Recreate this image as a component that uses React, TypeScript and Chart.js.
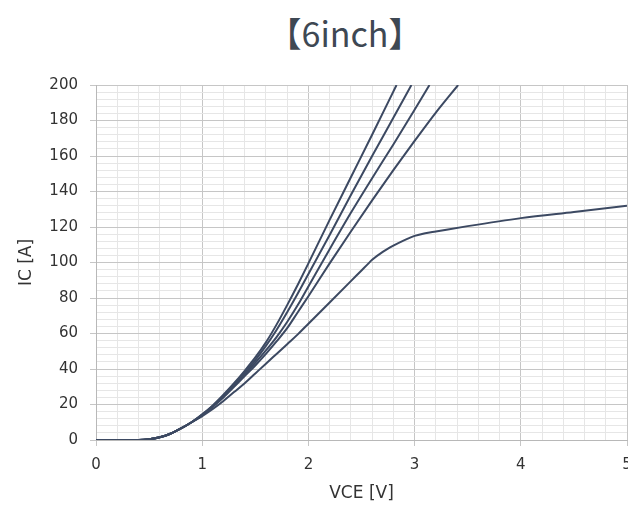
import React, { useEffect, useRef } from "react";
import { Chart, registerables } from "chart.js";

Chart.register(...registerables);

const TITLE = "【6inch】";
const X_TITLE = "VCE [V]";
const Y_TITLE = "IC [A]";

const vA = [0, 0.4, 0.5, 0.6, 0.7, 0.8, 0.9, 1.0, 1.1, 1.2, 1.3, 1.4, 1.5, 1.6, 1.7, 1.8, 1.9, 2.0, 2.2, 2.4, 2.6, 2.83];
const iA = [0, 0, 0.4, 1.5, 3.5, 6.5, 10, 14.5, 19.5, 25.5, 32, 39, 46.5, 55, 65, 76, 87.5, 99.5, 124, 148, 172, 200];

const vB = [0, 0.4, 0.5, 0.6, 0.7, 0.8, 0.9, 1.0, 1.1, 1.2, 1.3, 1.4, 1.5, 1.6, 1.7, 1.8, 1.9, 2.0, 2.2, 2.4, 2.6, 2.8, 2.97];
const iB = [0, 0, 0.4, 1.5, 3.5, 6.5, 10, 14.3, 19.3, 25, 31.5, 38, 45, 53, 62, 72, 82.5, 93.5, 115.5, 138, 160, 181.5, 200];

const vC = [0, 0.4, 0.5, 0.6, 0.7, 0.8, 0.9, 1.0, 1.1, 1.2, 1.3, 1.4, 1.5, 1.6, 1.7, 1.8, 1.9, 2.0, 2.2, 2.4, 2.6, 2.8, 3.0, 3.14];
const iC = [0, 0, 0.4, 1.5, 3.5, 6.5, 10, 14.1, 19, 24.5, 30.5, 37, 43.5, 50.5, 58, 66.5, 76, 86.5, 107.5, 128, 147.5, 166.5, 186, 200];

const vD = [0, 0.4, 0.5, 0.6, 0.7, 0.8, 0.9, 1.0, 1.1, 1.2, 1.3, 1.4, 1.5, 1.6, 1.7, 1.8, 1.9, 2.0, 2.2, 2.4, 2.6, 2.8, 3.0, 3.2, 3.41];
const iD = [0, 0, 0.4, 1.5, 3.5, 6.5, 10, 13.9, 18.8, 24, 30, 36, 42, 48.5, 55.5, 63, 72, 81, 99.5, 117.5, 135, 152, 168.5, 184.5, 200];

const vE = [0, 0.4, 0.5, 0.6, 0.7, 0.8, 0.9, 1.0, 1.1, 1.2, 1.3, 1.4, 1.5, 1.6, 1.7, 1.8, 1.9, 2.0, 2.2, 2.4, 2.5, 2.55, 2.6, 2.7, 2.8, 2.9, 3.0, 3.1, 3.2, 3.5, 4.0, 4.5, 5.0];
const iE = [0, 0, 0.4, 1.5, 3.5, 6.5, 10, 13.5, 17.5, 22, 27, 32, 37.5, 43, 48.5, 54, 59.5, 65.5, 77.5, 89.5, 95.5, 98.5, 101.5, 106, 109.5, 112.5, 115, 116.5, 117.5, 120.5, 125, 128.5, 132];

const SERIES = [
  { v: vA, i: iA },
  { v: vB, i: iB },
  { v: vC, i: iC },
  { v: vD, i: iD },
  { v: vE, i: iE },
];

const LINE_COLOR = "#3c4962";
const MAJOR = "#c6c6c6";
const MINOR = "#e6e6e6";
const TEXT = "#333333";

const isInt = (v: number, step: number) => Math.abs(v / step - Math.round(v / step)) < 1e-6;

export default function App() {
  const ref = useRef<HTMLCanvasElement | null>(null);

  useEffect(() => {
    if (!ref.current) return;
    const chart = new Chart(ref.current, {
      type: "line",
      data: {
        datasets: SERIES.map((s) => ({
          data: s.v.map((x, k) => ({ x, y: s.i[k] })),
          borderColor: LINE_COLOR,
          borderWidth: 2,
          pointRadius: 0,
          fill: false,
          cubicInterpolationMode: "monotone" as const,
        })),
      },
      options: {
        responsive: false,
        animation: false,
        layout: { padding: { left: 0, right: 33, top: 85, bottom: 0 } },
        plugins: { legend: { display: false }, tooltip: { enabled: false }, title: { display: false } },
        scales: {
          x: {
            type: "linear",
            min: 0,
            max: 5,
            afterFit: (scale: any) => {
              scale.height = 68;
            },
            ticks: {
              stepSize: 0.2,
              autoSkip: false,
              maxRotation: 0,
              padding: 10,
              color: TEXT,
              font: { family: "DejaVu Sans", size: 15 },
              callback: (v: any) => (isInt(Number(v), 1) ? String(Math.round(Number(v))) : ""),
            },
            grid: {
              color: (c: any) => (isInt(c.tick.value, 1) ? MAJOR : MINOR),
              tickColor: (c: any) => (isInt(c.tick.value, 1) ? MAJOR : "rgba(0,0,0,0)"),
              tickLength: 6,
            },
            border: { color: "#b8b8b8" },
            title: {
              display: true,
              text: X_TITLE,
              color: TEXT,
              font: { family: "DejaVu Sans", size: 17 },
              padding: { top: 0, bottom: 4 },
            },
          },
          y: {
            type: "linear",
            min: 0,
            max: 200,
            afterFit: (scale: any) => {
              scale.width = 96;
            },
            ticks: {
              stepSize: 4,
              autoSkip: false,
              padding: 12,
              color: TEXT,
              font: { family: "DejaVu Sans", size: 15 },
              callback: (v: any) => (isInt(Number(v), 20) ? String(Math.round(Number(v))) : ""),
            },
            grid: {
              color: (c: any) => (isInt(c.tick.value, 20) ? MAJOR : MINOR),
              tickColor: (c: any) => (isInt(c.tick.value, 20) ? MAJOR : "rgba(0,0,0,0)"),
              tickLength: 6,
            },
            border: { color: "#b8b8b8" },
            title: {
              display: true,
              text: Y_TITLE,
              color: TEXT,
              font: { family: "DejaVu Sans", size: 17 },
              padding: { top: 16, bottom: 0 },
            },
          },
        },
      },
    });
    return () => chart.destroy();
  }, []);

  return (
    <div style={{ position: "fixed", left: 0, top: 0, width: 660, height: 508, background: "#fff", overflow: "hidden" }}>
      <div
        style={{
          position: "absolute",
          left: 345,
          top: 10,
          transform: "translateX(-50%)",
          whiteSpace: "nowrap",
          fontFamily: "'Noto Sans CJK JP', 'Noto Sans', sans-serif",
          fontSize: 34,
          lineHeight: "46px",
          color: "#3e4853",
        }}
      >
        {TITLE}
      </div>
      <canvas ref={ref} width={660} height={508} style={{ position: "absolute", left: 0, top: 0 }} />
    </div>
  );
}
